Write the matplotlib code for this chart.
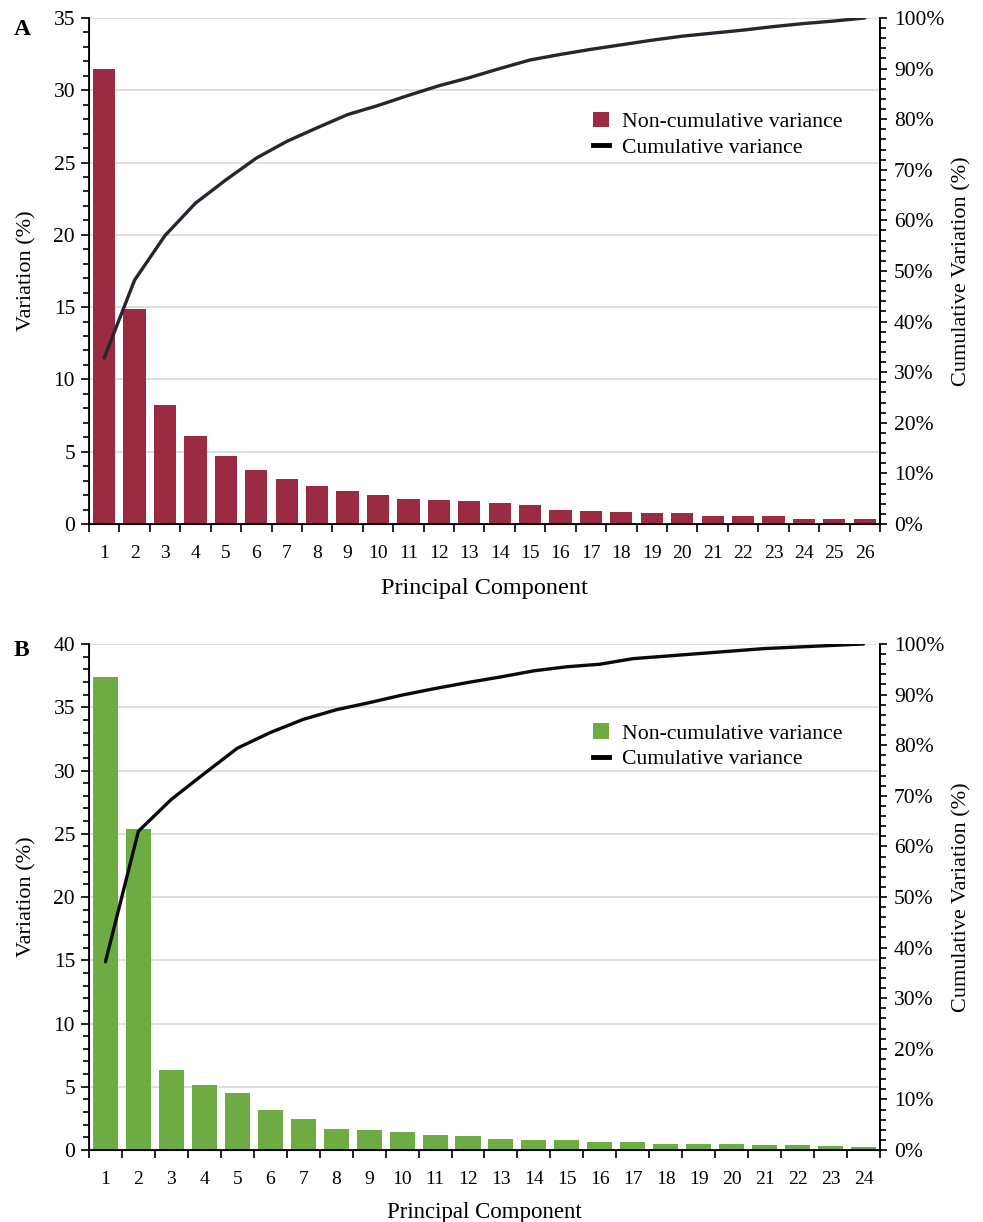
import numpy as np
import matplotlib
import matplotlib.pyplot as plt
from matplotlib.ticker import MultipleLocator, PercentFormatter
from matplotlib.lines import Line2D
from matplotlib.patches import Patch

matplotlib.use('Agg')
plt.rcParams['font.family'] = ['Liberation Serif', 'DejaVu Serif']

# panel A: 26 principal components
var_a = [31.5, 14.9, 8.25, 6.1, 4.72, 3.76, 3.13, 2.65, 2.3, 2.03, 1.75, 1.68, 1.61,
         1.47, 1.33, 0.99, 0.92, 0.85, 0.78, 0.78, 0.57, 0.57, 0.57, 0.37, 0.37, 0.37]
cum_a = [32.8, 48.2, 57.0, 63.4, 68.0, 72.3, 75.6, 78.3, 80.9, 82.7, 84.7, 86.6, 88.2,
         90.0, 91.7, 92.8, 93.8, 94.7, 95.6, 96.4, 97.0, 97.6, 98.3, 98.9, 99.4, 100.0]

# panel B: 24 principal components
var_b = [37.4, 25.4, 6.32, 5.14, 4.5, 3.16, 2.45, 1.66, 1.58, 1.42, 1.19, 1.11,
         0.87, 0.79, 0.79, 0.63, 0.63, 0.47, 0.47, 0.47, 0.4, 0.4, 0.32, 0.24]
cum_b = [37.2, 63.0, 69.3, 74.4, 79.4, 82.5, 85.1, 87.0, 88.4, 89.9, 91.2, 92.4,
         93.5, 94.7, 95.5, 96.0, 97.1, 97.6, 98.1, 98.6, 99.1, 99.4, 99.7, 100.0]

ymax_a, ymax_b = 35, 40

fig = plt.figure(figsize=(9.83, 12.22), dpi=100)


def draw_panel(rect, var, cum, ymax, bar_color, line_color, width, letter,
               letter_y, leg_y, xlab_size, xlab_pad):
    ax = fig.add_axes(rect)
    n = len(var)
    x = np.arange(1, n + 1)

    ax.bar(x, var, width=width, color=bar_color, zorder=2)
    ax.set_xlim(0.5, n + 0.5)
    ax.set_ylim(0, ymax)
    ax.yaxis.set_major_locator(MultipleLocator(5))
    ax.yaxis.set_minor_locator(MultipleLocator(1))
    ax.grid(axis='y', which='major', color='#d9d9d9', linewidth=1.2, zorder=0)
    ax.set_axisbelow(True)

    # category boundaries carry the ticks, labels sit at the centres
    ax.set_xticks(np.arange(0.5, n + 1), [''] * (n + 1))
    ax.set_xticks(x, [str(i) for i in x], minor=True)
    ax.tick_params(axis='x', which='major', direction='out', length=6, width=1.2)
    ax.tick_params(axis='x', which='minor', length=0, pad=15, labelsize=14)
    ax.tick_params(axis='y', which='major', direction='out', length=6, width=1.2,
                   labelsize=15.5, pad=4)
    ax.tick_params(axis='y', which='minor', direction='out', length=4, width=1.2)

    ax.set_ylabel('Variation (%)', fontsize=16, labelpad=12)
    ax.set_xlabel('Principal Component', fontsize=xlab_size, labelpad=xlab_pad)
    for side in ['left', 'bottom', 'right']:
        ax.spines[side].set_linewidth(1.3)
    ax.spines['top'].set_visible(False)

    ax2 = ax.twinx()
    ax2.plot(x, cum, color=line_color, linewidth=2.4, solid_capstyle='round',
             solid_joinstyle='round', zorder=3)
    ax2.set_ylim(0, 100)
    ax2.yaxis.set_major_locator(MultipleLocator(10))
    ax2.yaxis.set_minor_locator(MultipleLocator(2))
    ax2.yaxis.set_major_formatter(PercentFormatter(decimals=0))
    ax2.tick_params(axis='y', which='major', direction='out', length=5, width=1.2,
                    labelsize=15.5, pad=5)
    ax2.tick_params(axis='y', which='minor', direction='out', length=4, width=1.2)
    ax2.set_ylabel('Cumulative Variation (%)', fontsize=16, labelpad=6)
    ax2.spines['top'].set_visible(False)
    ax2.spines['right'].set_linewidth(1.3)

    handles = [Patch(facecolor=bar_color, edgecolor='none'),
               Line2D([0], [0], color='black', linewidth=3.5)]
    ax2.legend(handles, ['Non-cumulative variance', 'Cumulative variance'],
               loc='upper left', bbox_to_anchor=(0.613, leg_y), frameon=False,
               fontsize=15.7, handlelength=0.7, handleheight=0.7,
               handletextpad=0.6, labelspacing=0.25)

    fig.text(0.014, letter_y, letter, fontsize=17, fontweight='bold',
             va='center', ha='left')
    return ax, ax2


draw_panel([0.0905, 0.5712, 0.8047, 0.4141], var_a, cum_a, ymax_a,
           '#9a2b42', '#26262f', 0.73, 'A', 0.9755, 0.853, 17.5, 12)
draw_panel([0.0905, 0.0589, 0.8047, 0.4141], var_b, cum_b, ymax_b,
           '#6fab43', '#0a0a0a', 0.76, 'B', 0.468, 0.882, 16.5, 10.5)

fig.savefig('out.png', dpi=100)
